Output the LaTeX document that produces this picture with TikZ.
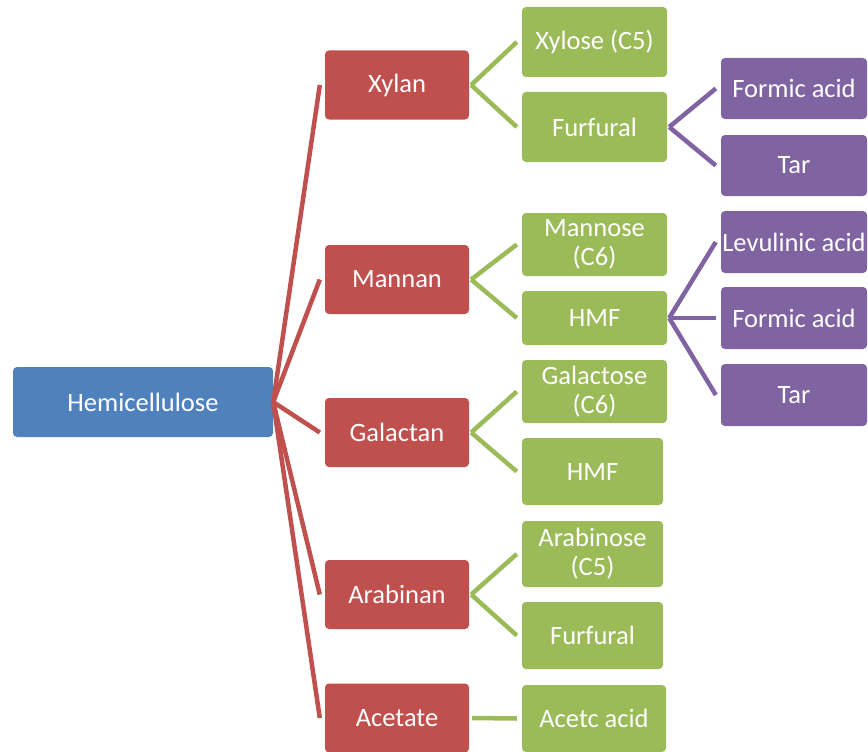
\documentclass[tikz,border=0pt]{standalone}
\usepackage{fontspec}
\setmainfont{Carlito}
\definecolor{cblue}{HTML}{4F81BD}
\definecolor{cred}{HTML}{C0504D}
\definecolor{cgreen}{HTML}{9BBB59}
\definecolor{cpurple}{HTML}{8064A2}
\tikzset{
  box/.style={rounded corners=4pt, inner sep=0pt, align=center, text=white,
    font=\fontsize{26.5}{29}\selectfont},
  bluebox/.style={box, fill=cblue, minimum width=260pt, minimum height=70pt},
  redbox/.style={box, fill=cred, minimum width=144pt, minimum height=69pt},
  greenbox/.style={box, fill=cgreen, minimum width=145pt},
  purplebox/.style={box, fill=cpurple, minimum width=146pt, minimum height=62pt},
  redline/.style={draw=cred, line width=4.5pt},
  greenline/.style={draw=cgreen, line width=4.5pt},
  purpleline/.style={draw=cpurple, line width=4.5pt}
}
\begin{document}
\begin{tikzpicture}[x=1pt, y=-1pt]
\useasboundingbox (0,0) rectangle (868,752);
\clip (0,0) rectangle (868,752);
% root
\node[bluebox] (hemi) at (143,402) {Hemicellulose};
% red level
\node[redbox] (xylan) at (397,85) {Xylan};
\node[redbox] (mannan) at (397,279.5) {Mannan};
\node[redbox] (galactan) at (397,432.5) {Galactan};
\node[redbox] (arabinan) at (397,594.5) {Arabinan};
\node[redbox] (acetate) at (397,718) {Acetate};
% green level
\node[greenbox, minimum height=70pt] (xylose) at (594.5,42) {Xylose (C5)};
\node[greenbox, minimum height=70pt] (furfural1) at (594.5,127) {Furfural};
\node[greenbox, minimum height=63pt] (mannose) at (594.5,244.5) {Mannose\\(C6)};
\node[greenbox, minimum height=54pt] (hmf1) at (594.5,318) {HMF};
\node[greenbox, minimum height=63pt] (galactose) at (594.5,391.5) {Galactose\\(C6)};
\node[greenbox, minimum height=67pt, minimum width=141pt] (hmf2) at (592.5,471.5) {HMF};
\node[greenbox, minimum height=66pt, minimum width=141pt] (arabinose) at (592.5,554) {Arabinose\\(C5)};
\node[greenbox, minimum height=67pt, minimum width=141pt] (furfural2) at (592.5,635.5) {Furfural};
\node[greenbox, minimum height=67pt, minimum width=144pt] (acetc) at (594,718.5) {Acetc acid};
% purple level
\node[purplebox, minimum height=61pt] (formic1) at (794,88.5) {Formic acid};
\node[purplebox, minimum height=61pt] (tar1) at (794,165.5) {Tar};
\node[purplebox] (levulinic) at (794,242) {Levulinic acid};
\node[purplebox] (formic2) at (794,318) {Formic acid};
\node[purplebox] (tar2) at (794,395) {Tar};
% red connectors
\foreach \n in {xylan,mannan,galactan,arabinan,acetate}
  \draw[redline] (hemi.east) -- ([xshift=-5pt]\n.west);
% green connectors
\draw[greenline] ([xshift=2pt]xylan.east) -- ([xshift=-5pt]xylose.west);
\draw[greenline] ([xshift=2pt]xylan.east) -- ([xshift=-5pt]furfural1.west);
\draw[greenline] ([xshift=2pt]mannan.east) -- ([xshift=-5pt]mannose.west);
\draw[greenline] ([xshift=2pt]mannan.east) -- ([xshift=-5pt]hmf1.west);
\draw[greenline] ([xshift=2pt]galactan.east) -- ([xshift=-5pt]galactose.west);
\draw[greenline] ([xshift=2pt]galactan.east) -- ([xshift=-5pt]hmf2.west);
\draw[greenline] ([xshift=2pt]arabinan.east) -- ([xshift=-5pt]arabinose.west);
\draw[greenline] ([xshift=2pt]arabinan.east) -- ([xshift=-5pt]furfural2.west);
\draw[greenline] ([xshift=3pt]acetate.east) -- ([xshift=-5pt]acetc.west);
% purple connectors
\draw[purpleline] ([xshift=2pt]furfural1.east) -- ([xshift=-5pt]formic1.west);
\draw[purpleline] ([xshift=2pt]furfural1.east) -- ([xshift=-5pt]tar1.west);
\draw[purpleline] ([xshift=2pt]hmf1.east) -- ([xshift=-5pt]levulinic.west);
\draw[purpleline] ([xshift=2pt]hmf1.east) -- ([xshift=-5pt]formic2.west);
\draw[purpleline] ([xshift=2pt]hmf1.east) -- ([xshift=-5pt]tar2.west);
\end{tikzpicture}
\end{document}
